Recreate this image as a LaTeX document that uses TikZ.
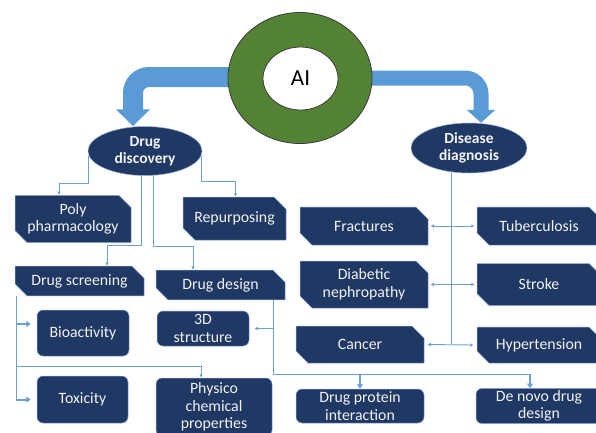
\documentclass[tikz,border=0pt]{standalone}
\usepackage{fontspec}
\setmainfont{Carlito}
\usepackage{tikz}
\usetikzlibrary{calc,arrows.meta,shapes.misc,shapes.geometric,backgrounds}
\definecolor{navy}{HTML}{203864}
\definecolor{rim}{HTML}{8FAADC}
\definecolor{sky}{HTML}{5B9BD5}
\definecolor{linkblue}{HTML}{6C9FD5}
\definecolor{leaf}{HTML}{548235}
\definecolor{ringline}{HTML}{3A3A3A}
\definecolor{ink}{HTML}{F2F2F2}
\tikzset{
  boxtxt/.style={text=ink, font=\fontsize{15.8}{17.5}\selectfont, align=center, inner sep=2pt},
  snip/.style={boxtxt, chamfered rectangle, chamfered rectangle corners={north east,south west}, chamfered rectangle sep=6pt, fill=navy, draw=rim, line width=0.5pt},
  soft/.style={boxtxt, rectangle, rounded corners=6pt, fill=navy, draw=rim, line width=0.5pt},
  hub/.style={ellipse, fill=navy, draw=rim, line width=0.5pt, text=ink, font=\bfseries\fontsize{15.5}{17.5}\selectfont, align=center, inner sep=0pt},
  link/.style={draw=linkblue, line width=0.9pt},
  tip/.style={link, -{Latex[length=3.5pt,width=3.5pt]}},
  twotip/.style={link, {Latex[length=3.5pt,width=3.5pt]}-{Latex[length=3.5pt,width=3.5pt]}},
  stub/.style={draw=linkblue, line width=2pt, -{Triangle[length=4.5pt,width=6pt]}},
  band/.style={draw=sky, rounded corners=16pt}
}

\begin{document}
\begin{tikzpicture}[x=1pt,y=-1pt]
  \useasboundingbox (0,0) rectangle (596,432);

  \node[ellipse, fill=leaf, draw=ringline, line width=0.8pt, minimum width=144pt, minimum height=131pt] (ai) at (300,78) {};
  \node[ellipse, fill=white, draw=ringline, line width=0.8pt, minimum width=75pt, minimum height=63pt, inner sep=0pt, font=\fontsize{23}{26}\selectfont] (aicore) at (300.5,78.5) {AI};

  \node[hub, minimum width=114pt, minimum height=49pt] (dd) at (145,151) {Drug\\discovery};
  \node[hub, minimum width=116pt, minimum height=50pt] (diag) at (469,148) {Disease\\diagnosis};

  \begin{scope}[on background layer]
    \draw[band, line width=20pt, -{Triangle[width=33pt,length=17pt]}] ([xshift=12pt,yshift=1pt]ai.west) -| ([xshift=-12pt]dd.north);
    \draw[band, line width=15pt, -{Triangle[width=28pt,length=13pt]}] ([xshift=-12pt]ai.east) -| ([xshift=12pt]diag.north);
  \end{scope}

  \node[snip, minimum width=116pt, minimum height=44pt] (poly) at (73,219) {Poly\\pharmacology};
  \node[snip, minimum width=103pt, minimum height=43pt] (repurp) at (234.5,218.5) {Repurposing};
  \node[snip, minimum width=129pt, minimum height=26pt] (screen) at (79.5,281) {Drug screening};
  \node[snip, minimum width=129pt, minimum height=26pt] (design) at (220.5,285) {Drug design};
  \node[soft, minimum width=92pt, minimum height=46pt] (bio) at (83,333) {Bioactivity};
  \node[soft, minimum width=91pt, minimum height=47pt] (tox) at (82.5,399.5) {Toxicity};
  \node[soft, minimum width=92pt, minimum height=35pt] (struct3d) at (203,328.5) {3D\\structure};
  \node[soft, minimum width=116pt, minimum height=58pt] (phys) at (214,407) {Physico\\chemical\\properties};

  \node[snip, minimum width=128pt, minimum height=38pt] (fract) at (364,226) {Fractures};
  \node[snip, minimum width=124pt, minimum height=38pt] (tuber) at (539,226) {Tuberculosis};
  \node[snip, minimum width=128pt, minimum height=41pt] (diab) at (364,284.5) {Diabetic\\nephropathy};
  \node[snip, minimum width=124pt, minimum height=42pt] (stroke) at (539,284.5) {Stroke};
  \node[snip, minimum width=128pt, minimum height=37pt] (cancer) at (360,344.5) {Cancer};
  \node[snip, minimum width=124pt, minimum height=36pt] (hyper) at (539,345) {Hypertension};
  \node[soft, minimum width=128pt, minimum height=34pt] (dpi) at (360,406) {Drug protein\\interaction};
  \node[soft, minimum width=126pt, minimum height=34pt] (denovo) at (539,406) {De novo drug\\design};

  \draw[tip] (dd.185) -- ++(0,28) -| ([xshift=-14pt]poly.north);
  \draw[tip] (dd.355) -- ++(0,26) -| ([xshift=1pt]repurp.north);
  \draw[tip] ([xshift=-4pt]dd.south) -- ++(0,70) -| ([xshift=27.5pt]screen.north);
  \draw[tip] ([xshift=8pt]dd.south) -- ++(0,71) -| ([xshift=-27.5pt]design.north);

  \coordinate (scr) at ($(screen.south -| screen.west)+(1.5,0)$);
  \coordinate (bioin) at ([yshift=9pt]bio.west);
  \draw[link] (scr) -- (scr |- tox.west);
  \draw[stub] (scr |- bioin) -- ([xshift=-6pt]bioin);
  \draw[stub] (scr |- tox.west) -- ([xshift=-6pt]tox.west);
  \draw[tip] ($(scr)+(0,70)$) -| ([xshift=-13pt]phys.north);

  \coordinate (des) at ($(design.south -| design.east)+(-12,0)$);
  \coordinate (dnin) at ([xshift=-9pt]denovo.north);
  \draw[link] (des) -- ++(0,74) coordinate (split) -- (split -| dnin);
  \draw[stub] (split -| dpi.north) -- (dpi.north);
  \draw[stub] (split -| dnin) -- (dnin);
  \draw[tip] (des |- struct3d.east) -- ([xshift=5pt]struct3d.east);

  \coordinate (dg) at ([xshift=-18pt]diag.south);
  \draw[link] (dg) -- (dg |- cancer.east);
  \draw[twotip] ([xshift=2pt]fract.east) -- ([xshift=-2pt]tuber.west);
  \draw[twotip] ([xshift=2pt]diab.east) -- ([xshift=-2pt]stroke.west);
  \draw[twotip] ([xshift=3pt]cancer.east) -- ([xshift=-3pt]hyper.west);
\end{tikzpicture}
\end{document}
